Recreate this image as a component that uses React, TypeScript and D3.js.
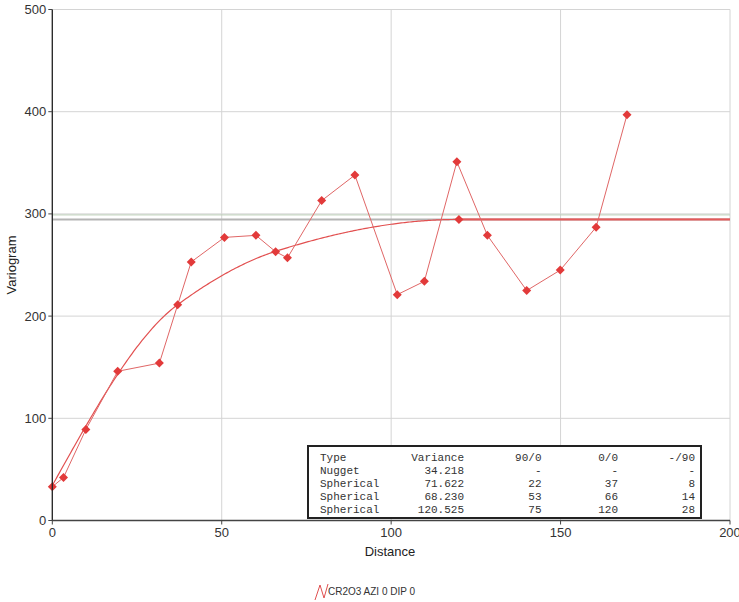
import React from "react";
import * as d3 from "d3";

const lagDistances = [0, 3.3, 9.9, 19.3, 31.6, 37.0, 41.0, 50.8, 60.1, 65.9, 69.4, 79.5, 89.3, 101.8, 109.8, 119.4, 128.4, 140.0, 149.9, 160.5, 169.6];
const gammaValues = [33, 42, 89, 146, 154, 211, 253, 277, 279, 263, 257, 313, 338, 221, 234, 351, 279, 225, 245, 287, 397];

const structTypes = ["Nugget", "Spherical", "Spherical", "Spherical"];
const structVariances = [34.218, 71.622, 68.23, 120.525];
const range90_0 = ["-", "22", "53", "75"];
const range0_0 = ["-", "37", "66", "120"];
const rangeMinus90 = ["-", "8", "14", "28"];
const modelRanges = [0, 37, 66, 120];
const dataVariance = 299;

const xTicks = [0, 50, 100, 150, 200];
const yTicks = [0, 100, 200, 300, 400, 500];
const legendLabel = "CR2O3 AZI 0 DIP 0";

const W = 739, H = 602;
const X0 = 52.3, X1 = 730, Y0 = 520.5, Y1 = 9.5;

function model(h: number) {
  let g = 0;
  structVariances.forEach((c, i) => {
    if (i === 0) { g += c; return; }
    const a = modelRanges[i];
    const r = h / a;
    g += r >= 1 ? c : c * (1.5 * r - 0.5 * r * r * r);
  });
  return g;
}

export default function App() {
  const x = d3.scaleLinear().domain([0, 200]).range([X0, X1]);
  const y = d3.scaleLinear().domain([0, 500]).range([Y0, Y1]);
  const sill = d3.sum(structVariances);
  const maxRange = d3.max(modelRanges) as number;
  const hs = d3.range(0, 200.01, 0.5);
  const modelPath = d3.line<number>().x(h => x(h)).y(h => y(model(h)))(hs) || "";
  const dataPath = d3.line<number>().x((_, i) => x(lagDistances[i])).y(v => y(v))(gammaValues) || "";
  const diamond = (cx: number, cy: number, s = 4.5) => `M${cx},${cy - s}L${cx + s},${cy}L${cx},${cy + s}L${cx - s},${cy}Z`;
  const font = "Arial, 'Liberation Sans', sans-serif";
  const mono = "'Courier New', 'Liberation Mono', monospace";

  const tblX = 308, tblY = 446, tblW = 393, tblH = 72;
  const rows = [["Type", "Variance", "90/0", "0/0", "-/90"]].concat(
    structTypes.map((t, i) => [t, structVariances[i].toFixed(3), range90_0[i], range0_0[i], rangeMinus90[i]])
  );
  const colRight = [0, 464, 541.5, 618, 695];

  return (
    <svg width={W} height={H} style={{ position: "absolute", left: 0, top: 0, background: "#fff" }}>
      {/* grid */}
      {xTicks.map(t => (
        <line key={"gx" + t} x1={x(t)} x2={x(t)} y1={Y1} y2={Y0} stroke="#d4d4d4" strokeWidth={1} />
      ))}
      {yTicks.map(t => (
        <line key={"gy" + t} x1={X0} x2={X1} y1={y(t)} y2={y(t)} stroke="#d4d4d4" strokeWidth={1} />
      ))}
      {/* reference lines */}
      <line x1={X0} x2={X1} y1={y(dataVariance)} y2={y(dataVariance)} stroke="#bccfb8" strokeWidth={1} />
      <line x1={X0} x2={X1} y1={y(sill)} y2={y(sill)} stroke="#b4b4b4" strokeWidth={2} />
      {/* model */}
      <path d={modelPath} fill="none" stroke="#e25050" strokeWidth={1.2} />
      <line x1={x(maxRange)} x2={X1} y1={y(sill)} y2={y(sill)} stroke="#e45a5a" strokeWidth={2} />
      <path d={diamond(x(maxRange), y(sill))} fill="#e23a3a" />
      {/* data */}
      <path d={dataPath} fill="none" stroke="#e06666" strokeWidth={1} />
      {gammaValues.map((v, i) => (
        <path key={"p" + i} d={diamond(x(lagDistances[i]), y(v))} fill="#e23a3a" />
      ))}
      {/* axes */}
      <line x1={X0} x2={X0} y1={Y1} y2={Y0 + 0.5} stroke="#222" strokeWidth={1.3} />
      <line x1={X0} x2={X1} y1={Y0} y2={Y0} stroke="#444" strokeWidth={1.3} />
      {yTicks.map(t => (
        <g key={"ty" + t}>
          <line x1={X0 - 4} x2={X0} y1={y(t)} y2={y(t)} stroke="#444" />
          <text x={X0 - 6} y={y(t) + 4.5} textAnchor="end" fontFamily={font} fontSize={13} fill="#333">{t}</text>
        </g>
      ))}
      {xTicks.map(t => (
        <g key={"tx" + t}>
          <line x1={x(t)} x2={x(t)} y1={Y0} y2={Y0 + 4} stroke="#444" />
          <text x={x(t)} y={Y0 + 16} textAnchor="middle" fontFamily={font} fontSize={13} fill="#333">{t}</text>
        </g>
      ))}
      <text x={390} y={556} textAnchor="middle" fontFamily={font} fontSize={13} fill="#222">Distance</text>
      <text transform="translate(16,265) rotate(-90)" textAnchor="middle" fontFamily={font} fontSize={13} fill="#222">Variogram</text>
      {/* table */}
      <rect x={tblX} y={tblY} width={tblW} height={tblH} fill="#fff" stroke="#222" strokeWidth={2} />
      {rows.map((r, ri) => (
        <g key={"r" + ri}>
          {r.map((c, ci) => (
            <text key={ci} x={ci === 0 ? 320 : colRight[ci]} y={461 + ri * 13} textAnchor={ci === 0 ? "start" : "end"}
              fontFamily={mono} fontSize={11} fill="#333" xmlSpace="preserve">{c}</text>
          ))}
        </g>
      ))}
      {/* legend */}
      <path d="M315,600 L320,585 L324,598 L328,584" fill="none" stroke="#e05050" strokeWidth={1} />
      <text x={328} y={595} fontFamily={font} fontSize={10} fill="#333">{legendLabel}</text>
    </svg>
  );
}
